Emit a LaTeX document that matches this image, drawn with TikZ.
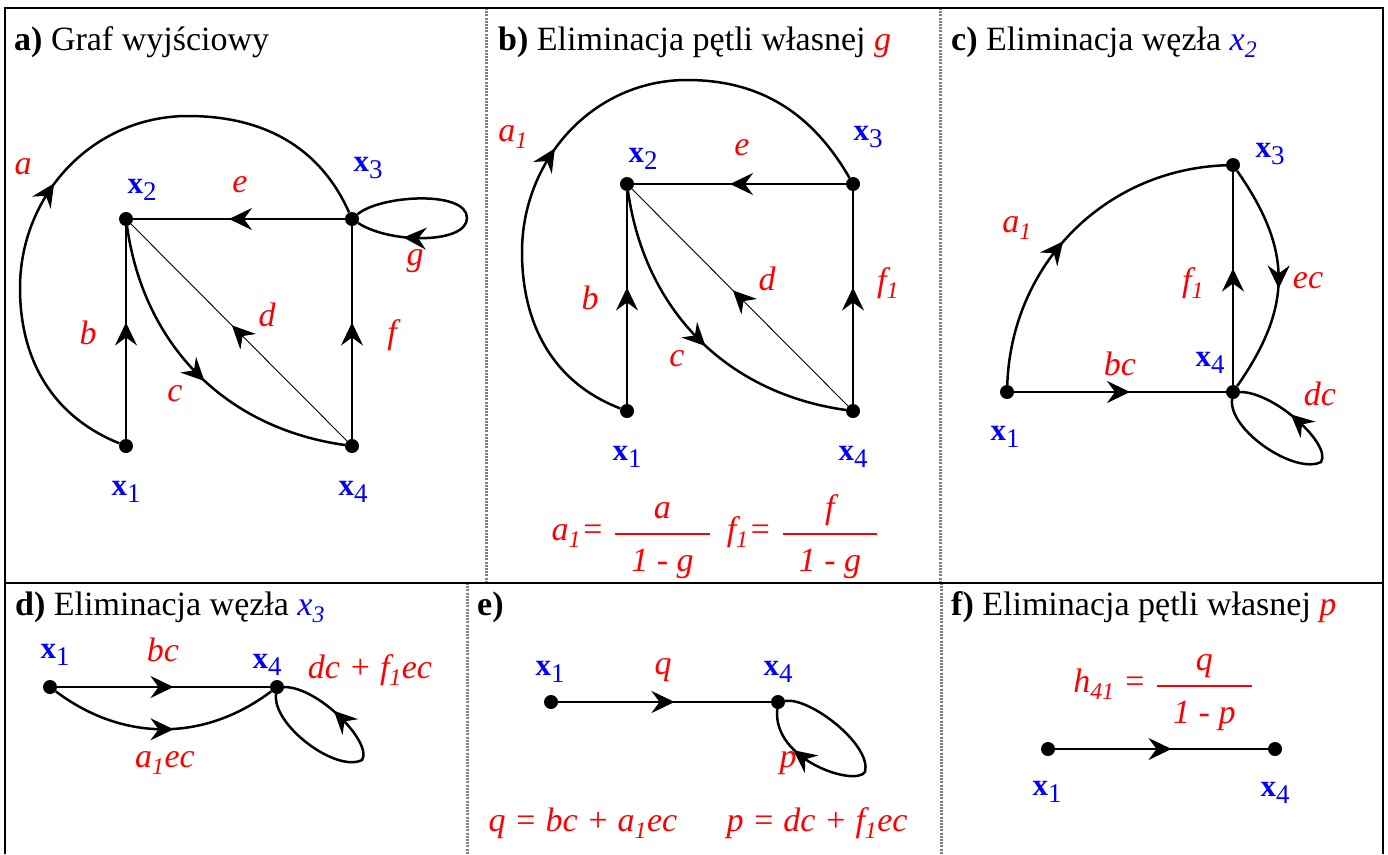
\documentclass[tikz,border=0pt]{standalone}
\usepackage{amsmath}
\usepackage{fontspec}
\setmainfont{Liberation Serif}
\usetikzlibrary{arrows.meta,decorations.markings}

% bold node name with lowered index
\newcommand{\xn}[1]{\textbf{x}\raisebox{-7pt}{\fontsize{27}{27}\selectfont #1}}
% fraction with a thick bar and roomy parts
\newcommand{\frc}[2]{\genfrac{}{}{1.8pt}{0}{\text{#1}\rule[-9pt]{0pt}{9pt}}{\text{\hspace{16pt}#2\hspace{16pt}}\rule{0pt}{31pt}}}

\begin{document}
\begin{tikzpicture}[x=1pt, y=1pt,
    midtip/.tip={Stealth[length=23pt, width=22pt, inset=8pt]},
    dot/.style={circle, fill, inner sep=0pt, minimum size=14pt},
    flow/.style={line width=2.5pt, postaction={decorate, decoration={markings,
        mark=at position #1 with {\arrow[xshift=10pt]{midtip}}}}},
    flow/.default=0.5,
    lab/.style={text=red, inner sep=0pt, font=\fontsize{34}{38}\selectfont\itshape},
    vlab/.style={text=blue, inner sep=0pt, font=\fontsize{31}{34}\selectfont},
    ttl/.style={anchor=base west, inner sep=0pt, font=\fontsize{34}{40}\selectfont},
    frame/.style={line width=2.8pt},
    split/.style={line width=3pt, gray, dash pattern=on 2pt off 1.2pt}]
    \useasboundingbox (0,0) rectangle (1388,-854);

    % Table lines
    \foreach \x/\ya/\yb in {486/8/583, 940/8/583, 467/583/854, 941/583/854}
        \draw[split] (\x,-\ya) -- (\x,-\yb);
    \draw[frame] (5,-854) -- (5,-8) -- (1383,-8) -- (1383,-854);
    \draw[frame] (5,-583) -- (1383,-583);

    % a) Graf wyjsciowy
    \node[ttl] (ttl-a) at (14,-50) {\textbf{a)} Graf wyjściowy};
    \node[dot] (a1) at (126,-446) {};
    \node[dot] (a2) at (126,-219) {};
    \node[dot] (a3) at (352,-219) {};
    \node[dot] (a4) at (352,-446) {};
    \coordinate (aL) at (20,-288);
    \coordinate (aT) at (188,-116);
    \coordinate (aG) at (467,-218);
    \draw[flow=0.45] (a1) to[out=158,in=-90] (aL) to[out=90,in=180] (aT) to[out=0,in=114] (a3);
    \draw[flow, line width=1.6pt] (a1) -- (a2);
    \draw[flow, line width=1.6pt] (a3) -- (a2);
    \draw[flow] (a2) to[out=-82,in=172] (a4);
    \draw[flow, line width=0.9pt] (a4) -- (a2);
    \draw[flow] (a4) -- (a3);
    \draw[flow=0.76] (a3) .. controls +(28,24) and +(0,28) .. (aG) .. controls +(0,-26) and +(38,-25) .. (a3);
    \node[lab] (a-a) at (23,-167) {a};
    \node[lab] (a-e) at (240,-185) {e};
    \node[lab] (a-b) at (88,-333) {b};
    \node[lab] (a-d) at (267,-315) {d};
    \node[lab] (a-f) at (392,-335) {f};
    \node[lab] (a-c) at (175,-394) {c};
    \node[lab] (a-g) at (415,-261) {g};
    \node[vlab] (a-x2) at (142,-190) {\xn{2}};
    \node[vlab] (a-x3) at (368,-168) {\xn{3}};
    \node[vlab] (a-x1) at (126,-492) {\xn{1}};
    \node[vlab] (a-x4) at (353,-492) {\xn{4}};

    % b) Eliminacja petli wlasnej g
    \node[ttl] (ttl-b) at (498,-50) {\textbf{b)} Eliminacja pętli własnej \textcolor{red}{\textit{g}}};
    \node[dot] (b1) at (627,-411) {};
    \node[dot] (b2) at (627,-184) {};
    \node[dot] (b3) at (853,-184) {};
    \node[dot] (b4) at (853,-411) {};
    \coordinate (bL) at (522,-252);
    \coordinate (bT) at (687,-80);
    \draw[flow=0.45] (b1) to[out=159,in=-90] (bL) to[out=90,in=180] (bT) to[out=0,in=120] (b3);
    \draw[flow, line width=1.6pt] (b1) -- (b2);
    \draw[flow, line width=1.8pt] (b3) -- (b2);
    \draw[flow] (b2) to[out=-82,in=172] (b4);
    \draw[flow, line width=0.9pt] (b4) -- (b2);
    \draw[flow] (b4) -- (b3);
    \node[lab] (b-a) at (513,-137) {a\textsubscript{1}};
    \node[lab] (b-e) at (742,-148) {e};
    \node[lab] (b-b) at (590,-298) {b};
    \node[lab] (b-d) at (767,-279) {d};
    \node[lab] (b-f) at (888,-283) {f\textsubscript{1}};
    \node[lab] (b-c) at (677,-359) {c};
    \node[vlab] (b-x2) at (643,-159) {\xn{2}};
    \node[vlab] (b-x3) at (868,-137) {\xn{3}};
    \node[vlab] (b-x1) at (627,-457) {\xn{1}};
    \node[vlab] (b-x4) at (853,-457) {\xn{4}};
    \node[lab, anchor=base] (b-eq) at (715,-540)
        {a\textsubscript{1}=\hspace{10pt}$\frc{a}{1 - g}$\hspace{16pt}f\textsubscript{1}=\hspace{10pt}$\frc{f}{1 - g}$};

    % c) Eliminacja wezla x2
    \node[ttl] (ttl-c) at (951,-50) {\textbf{c)} Eliminacja węzła \textcolor{blue}{\textit{x\textsubscript{2}}}};
    \node[dot] (c1) at (1007,-392) {};
    \node[dot] (c3) at (1233,-165) {};
    \node[dot] (c4) at (1233,-392) {};
    \coordinate (cD) at (1321,-462);
    \draw[flow=0.43] (c1) to[out=88,in=182] (c3);
    \draw[flow] (c1) -- (c4);
    \draw[flow] (c4) -- (c3);
    \draw[flow] (c3) to[out=-55,in=55,looseness=1.15] (c4);
    \draw[flow=0.72] (c4) .. controls +(-5,-38) and +(-26,-13) .. (cD) .. controls +(11,17) and +(42,0) .. (c4);
    \node[lab] (c-a) at (1017,-228) {a\textsubscript{1}};
    \node[lab] (c-bc) at (1120,-364) {bc};
    \node[lab] (c-f) at (1193,-283) {f\textsubscript{1}};
    \node[lab] (c-ec) at (1308,-281) {ec};
    \node[lab] (c-dc) at (1320,-394) {dc};
    \node[vlab] (c-x3) at (1270,-154) {\xn{3}};
    \node[vlab] (c-x4) at (1210,-363) {\xn{4}};
    \node[vlab] (c-x1) at (1005,-437) {\xn{1}};

    % d) Eliminacja wezla x3
    \node[ttl] (ttl-d) at (15,-615) {\textbf{d)} Eliminacja węzła \textcolor{blue}{\textit{x\textsubscript{3}}}};
    \node[dot] (d1) at (50,-687) {};
    \node[dot] (d4) at (277,-687) {};
    \coordinate (dD) at (362,-760);
    \draw[flow] (d1) -- (d4);
    \draw[flow] (d1) to[out=-37,in=-143] (d4);
    \draw[flow=0.72] (d4) .. controls +(-5,-38) and +(-26,-13) .. (dD) .. controls +(11,17) and +(42,0) .. (d4);
    \node[lab] (d-bc) at (163,-650) {bc};
    \node[lab] (d-aec) at (165,-763) {a\textsubscript{1}ec};
    \node[lab] (d-loop) at (370,-670) {dc + f\textsubscript{1}ec};
    \node[vlab] (d-x1) at (55,-655) {\xn{1}};
    \node[vlab] (d-x4) at (267,-665) {\xn{4}};

    % e)
    \node[ttl] (ttl-e) at (477,-615) {\textbf{e)}};
    \node[dot] (e1) at (551,-702) {};
    \node[dot] (e4) at (778,-702) {};
    \coordinate (eP) at (865,-772);
    \draw[flow] (e1) -- (e4);
    \draw[flow=0.77] (e4) .. controls +(32,5) and +(7,27) .. (eP) .. controls +(-10,-15) and +(-6,-58) .. (e4);
    \node[lab] (e-q) at (663,-670) {q};
    \node[lab] (e-p) at (788,-763) {p};
    \node[vlab] (e-x1) at (550,-672) {\xn{1}};
    \node[vlab] (e-x4) at (778,-672) {\xn{4}};
    \node[lab] (e-eqq) at (583,-823) {q = bc + a\textsubscript{1}ec};
    \node[lab] (e-eqp) at (817,-823) {p = dc + f\textsubscript{1}ec};

    % f) Eliminacja petli wlasnej p
    \node[ttl] (ttl-f) at (951,-615) {\textbf{f)} Eliminacja pętli własnej \textcolor{red}{\textit{p}}};
    \node[dot] (f1) at (1048,-749) {};
    \node[dot] (f4) at (1275,-749) {};
    \draw[flow] (f1) -- (f4);
    \node[lab, anchor=base] (f-eq) at (1163,-692)
        {h\textsubscript{41} =\hspace{10pt}$\frc{q}{1 - p}$};
    \node[vlab] (f-x1) at (1047,-792) {\xn{1}};
    \node[vlab] (f-x4) at (1275,-793) {\xn{4}};
\end{tikzpicture}
\end{document}
